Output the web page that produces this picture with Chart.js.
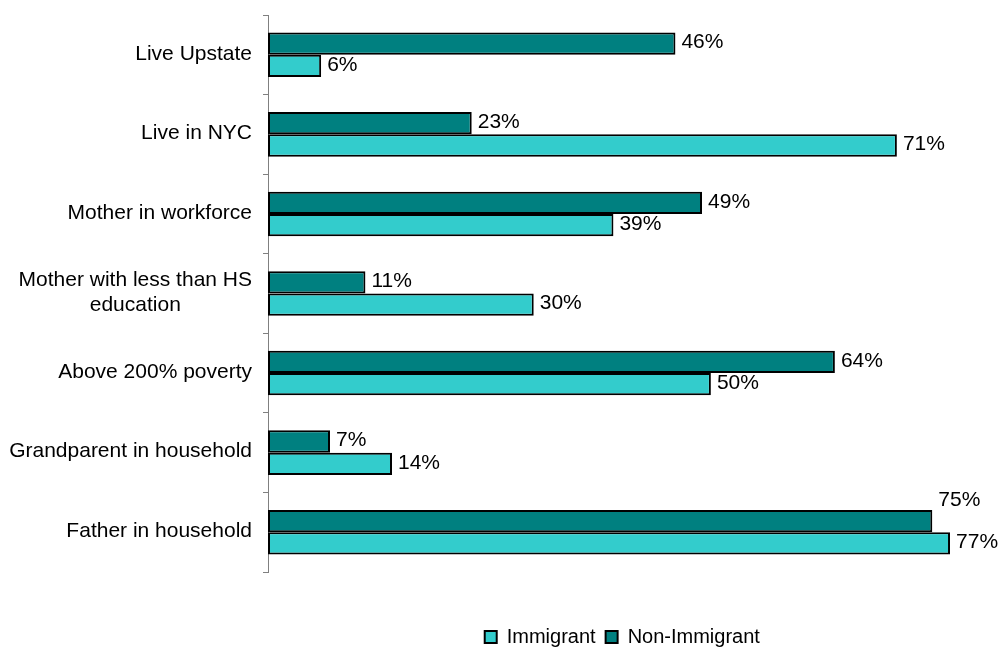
<!DOCTYPE html>
<html>
<head>
<meta charset="utf-8">
<script src="https://cdn.jsdelivr.net/npm/chart.js@4.4.1/dist/chart.umd.min.js"></script>
<style>
html,body{margin:0;padding:0;background:#fff;}
#wrap{width:1000px;height:648px;position:relative;}
</style>
</head>
<body>
<div id="wrap"><canvas id="c"></canvas></div>
<script>
const categories = [
  'Live Upstate',
  'Live in NYC',
  'Mother in workforce',
  ['Mother with less than HS', 'education'],
  'Above 200% poverty',
  'Grandparent in household',
  'Father in household'
];
const nonImmigrant = [46, 23, 49, 11, 64, 7, 75];
const immigrant = [6, 71, 39, 30, 50, 14, 77];
const seriesNames = ['Non-Immigrant', 'Immigrant'];

const FONT = "'Liberation Sans', Arial, sans-serif";
Chart.defaults.font.family = FONT;
Chart.defaults.color = '#000';

const categoryLabels = {
  id: 'categoryLabels',
  afterDraw(chart) {
    const ys = chart.scales.y;
    const ctx = chart.ctx;
    ctx.save();
    ctx.font = '21px ' + FONT;
    ctx.fillStyle = '#000';
    ctx.textBaseline = 'middle';
    const rightX = ys.right - 16;
    chart.data.labels.forEach((lab, i) => {
      const cy = ys.getPixelForValue(i);
      const lines = Array.isArray(lab) ? lab : [lab];
      const lh = 25;
      const maxW = Math.max(...lines.map(l => ctx.measureText(l).width));
      const cx = rightX - maxW / 2;
      ctx.textAlign = 'center';
      lines.forEach((l, k) => {
        const y = cy + (k - (lines.length - 1) / 2) * lh - 1;
        ctx.fillText(l, cx, y);
      });
    });
    ctx.restore();
  }
};

const valueLabels = {
  id: 'valueLabels',
  afterDatasetsDraw(chart) {
    const ctx = chart.ctx;
    ctx.save();
    ctx.font = '21px ' + FONT;
    ctx.fillStyle = '#000';
    ctx.textBaseline = 'middle';
    ctx.textAlign = 'left';
    const m0 = chart.getDatasetMeta(0);
    const m1 = chart.getDatasetMeta(1);
    [m0, m1].forEach((meta, di) => {
      meta.data.forEach((bar, i) => {
        const v = chart.data.datasets[di].data[i];
        const txt = v + '%';
        const w = ctx.measureText(txt).width;
        const x = bar.x + 6;
        let y = bar.y - 1;
        if (di === 0) {
          const other = m1.data[i];
          if (other.x > bar.x && other.x < x + w) {
            y = bar.y - bar.height + 1;
          }
        }
        ctx.fillText(txt, x, y);
      });
    });
    ctx.restore();
  }
};

new Chart(document.getElementById('c'), {
  type: 'bar',
  data: {
    labels: categories,
    datasets: [
      {
        label: seriesNames[0],
        data: nonImmigrant,
        backgroundColor: '#008080',
        borderColor: '#000',
        borderWidth: 2,
        borderSkipped: false
      },
      {
        label: seriesNames[1],
        data: immigrant,
        backgroundColor: '#33CCCC',
        borderColor: '#000',
        borderWidth: 2,
        borderSkipped: false
      }
    ]
  },
  options: {
    indexAxis: 'y',
    responsive: true,
    maintainAspectRatio: false,
    devicePixelRatio: 1,
    animation: false,
    categoryPercentage: 0.56,
    barPercentage: 1.0,
    layout: { padding: { top: 15, left: 0, right: 23.4, bottom: -9 } },
    scales: {
      x: {
        min: 0,
        max: 80,
        display: true,
        grid: { display: false },
        border: { display: false },
        ticks: { display: false },
        afterFit(scale) { scale.height = 45; }
      },
      y: {
        grid: {
          display: true,
          drawOnChartArea: false,
          drawTicks: true,
          tickLength: 5,
          color: '#808080',
          offset: true
        },
        border: { display: true, color: '#808080', width: 1 },
        ticks: { display: false },
        afterFit(scale) { scale.width = 268; }
      }
    },
    plugins: {
      legend: {
        position: 'bottom',
        fullSize: false,
        reverse: true,
        labels: {
          boxWidth: 12,
          boxHeight: 12,
          padding: 10,
          color: '#000',
          font: { size: 20, family: FONT }
        }
      },
      tooltip: { enabled: false }
    }
  },
  plugins: [categoryLabels, valueLabels]
});
</script>
</body>
</html>
